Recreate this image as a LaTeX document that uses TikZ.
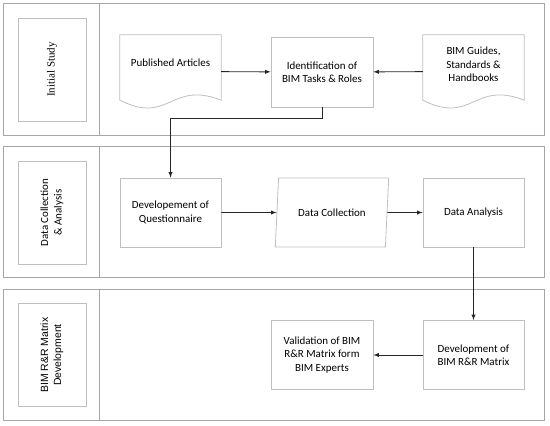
\documentclass[tikz,border=0pt]{standalone}
\usepackage{fontspec}
\setmainfont{Carlito}
\newfontfamily\studyfont{Liberation Serif}
\newfontfamily\matrixfont{Liberation Sans}
\usetikzlibrary{arrows,shapes.geometric,calc}

\definecolor{laneline}{HTML}{A6A6A6}
\definecolor{boxline}{HTML}{BFBFBF}

\tikzset{
    lanecell/.style = {draw=laneline, line width=0.8bp, minimum height=131bp},
    lanelabel/.style = {draw=boxline, line width=0.8bp, rotate=90,
        minimum width=103bp, minimum height=68bp, align=center},
    stepbox/.style = {draw=boxline, line width=0.8bp, fill=white,
        minimum width=101bp, minimum height=69bp, align=center},
    docbox/.style = {minimum width=101bp, minimum height=73bp, inner sep=0pt},
    docline/.style = {draw=boxline, line width=0.8bp, fill=white},
    doctext/.style = {align=center},
    iobox/.style = {trapezium, trapezium left angle=81, trapezium right angle=99,
        trapezium stretches=true, draw=boxline, line width=0.8bp,
        minimum width=114bp, minimum height=69bp, align=center},
    flow/.style = {->, >=latex, line width=0.9bp, black!85}
}

\begin{document}
\begin{tikzpicture}[x=1bp, y=-1bp, font=\fontsize{11}{13.5}\selectfont]
    \useasboundingbox (0,0) rectangle (550,425);
    % lanes
    \node[lanecell, minimum width=96bp, minimum height=132bp] (studyhead) at (51,69) {};
    \node[lanecell, minimum width=445bp, minimum height=132bp] (studybody) at (321.5,69) {};
    \node[lanecell, minimum width=96bp] (datahead) at (51,211.5) {};
    \node[lanecell, minimum width=445bp] (databody) at (321.5,211.5) {};
    \node[lanecell, minimum width=96bp] (matrixhead) at (51,354.5) {};
    \node[lanecell, minimum width=445bp] (matrixbody) at (321.5,354.5) {};
    \node[lanelabel, font=\studyfont\fontsize{11}{13}\selectfont] (study) at (52,69.5) {Initial Study};
    \node[lanelabel] (data) at (52,212.5) {Data Collection\\\& Analysis};
    \node[lanelabel, font=\matrixfont\fontsize{10.5}{13}\selectfont] (matrix) at (52,355) {BIM R\&R Matrix\\Development};
    % first lane
    \node[docbox] (articles) at (170.5,71.5) {};
    \draw[docline] (articles.north west) -- (articles.north east)
        -- ([yshift=8bp]articles.south east) .. controls +(-51,-20) and +(50,25) .. ([yshift=8bp]articles.south west)
        -- cycle;
    \node[doctext] (articlestext) at ([yshift=8.5bp]articles.center) {Published Articles};
    \node[docbox] (guides) at (473.5,71.5) {};
    \draw[docline] (guides.north west) -- (guides.north east)
        -- ([yshift=8bp]guides.south east) .. controls +(-51,-20) and +(50,25) .. ([yshift=8bp]guides.south west)
        -- cycle;
    \node[doctext] (guidestext) at ([yshift=7bp]guides.center) {BIM Guides,\\Standards \&\\Handbooks};
    \node[stepbox, minimum width=102bp, minimum height=70bp] (ident) at (322,72) {Identification of\\BIM Tasks \& Roles};
    % second lane
    \node[stepbox] (quest) at (170.5,212.5) {Developement of\\Questionnaire};
    \node[iobox] (collect) at (332,212.5) {Data Collection};
    \node[stepbox] (analysis) at (473.5,212.5) {Data Analysis};
    % third lane
    \node[stepbox] (develop) at (473.5,355) {Development of\\BIM R\&R Matrix};
    \node[stepbox, minimum width=102bp] (valid) at (322,355) {Validation of BIM\\R\&R Matrix form\\BIM Experts};
    % connectors
    \draw[flow] (articles) -- (ident);
    \draw[flow] (guides) -- (ident);
    \draw[flow] (ident.south) -- ++(0,11) -| (quest.north);
    \draw[flow] (quest) -- (collect);
    \draw[flow] (collect) -- (analysis);
    \draw[flow] (analysis) -- (develop);
    \draw[flow] (develop) -- (valid);
\end{tikzpicture}
\end{document}
